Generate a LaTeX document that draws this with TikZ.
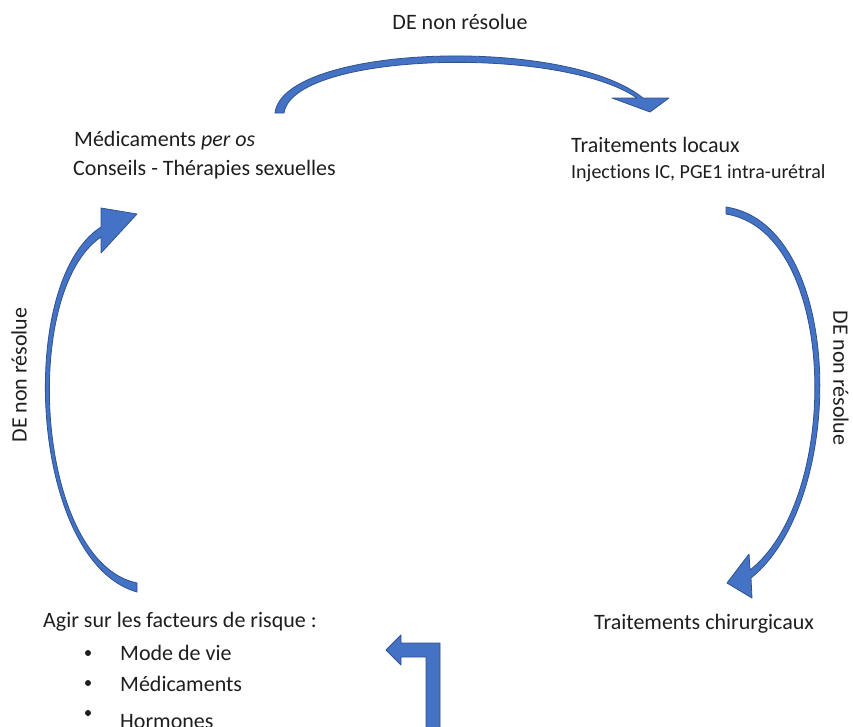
\documentclass[tikz,border=0pt]{standalone}
\usepackage{fontspec}
\setmainfont{Carlito}[Ligatures=NoCommon]
\definecolor{arrowfill}{HTML}{4472C4}
\definecolor{arrowedge}{HTML}{2F528F}
\definecolor{txt}{HTML}{1E1E1E}
\tikzset{
  blk/.style={fill=arrowfill, draw=arrowedge, line width=0.8pt, line join=round},
  lbl/.style={inner sep=0pt, anchor=base west, text=txt, font=\fontsize{22}{26}\selectfont},
  sublbl/.style={inner sep=0pt, anchor=base west, text=txt, font=\fontsize{20}{24}\selectfont},
  bul/.style={circle, fill=txt, inner sep=0pt, minimum size=6pt},
}
\begin{document}
\begin{tikzpicture}[x=1pt, y=-1pt]
\useasboundingbox (0,0) rectangle (853,726);
\clip (0,0) rectangle (853,726);

% texts
\node[lbl] (med) at (74,146) {Médicaments \textit{per os}};
\node[lbl] (cons) at (73,175) {Conseils - Thérapies sexuelles};
\node[lbl] (loc) at (571,152) {Traitements locaux};
\node[sublbl] (inj) at (571,178) {Injections IC, PGE1 intra-urétral};
\node[lbl] (chir) at (594,629) {Traitements chirurgicaux};
\node[lbl] (agir) at (43,627) {Agir sur les facteurs de risque :};
\node[lbl] (mode) at (120,660) {Mode de vie};
\node[lbl] (medi) at (120,691) {Médicaments};
\node[lbl] (horm) at (120,728) {Hormones};
\node[bul] (b1) at (88,653) {};
\node[bul] (b2) at (88,683) {};
\node[bul] (b3) at (88,713) {};

\node[lbl, anchor=base] (detop) at (460,29) {DE non résolue};
\node[inner sep=0pt, text=txt, font=\fontsize{22}{26}\selectfont, rotate=-90] (deright) at (841,378) {DE non résolue};
\node[inner sep=0pt, text=txt, font=\fontsize{22}{26}\selectfont, rotate=90] (deleft) at (19,375) {DE non résolue};

% top curved arrow
\path[blk] (275,113) .. controls (283,45) and (565,35) .. (643,98)
  -- (669,98) -- (650,112) -- (612,98) -- (637,98)
  .. controls (560,45) and (293,52) .. (284,113) -- cycle;

% right curved arrow
\path[blk] (726,207) .. controls (845,225) and (848,500) .. (751,578)
  -- (752,598) -- (727,583) -- (749,554) -- (750,570)
  .. controls (842,497) and (838,232) .. (726,214) -- cycle;

% left curved arrow
\path[blk] (137,592) .. controls (30,562) and (15,282) .. (101,227)
  -- (101,208) -- (137,214) -- (101,253) -- (101,237)
  .. controls (20,292) and (36,562) .. (137,583) -- cycle;

% bent arrow
\path[blk] (426,740) -- (426,657) -- (401,657) -- (401,665) -- (386,650)
  -- (401,635) -- (401,643) -- (440,643) -- (440,740) -- cycle;
\end{tikzpicture}
\end{document}
